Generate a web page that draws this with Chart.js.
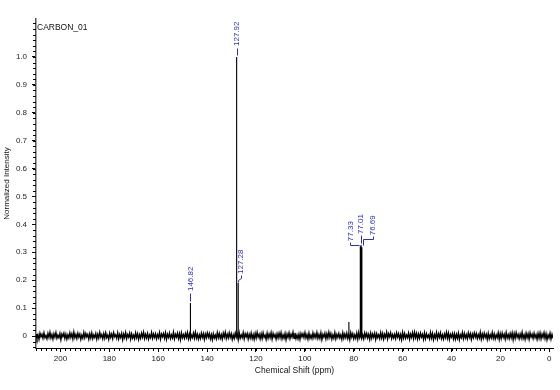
<!DOCTYPE html>
<html>
<head>
<meta charset="utf-8">
<script src="https://cdn.jsdelivr.net/npm/chart.js@4.4.1/dist/chart.umd.min.js"></script>
<style>
  body { margin: 0; background: #fff; }
  #spectre { display: block; }
</style>
</head>
<body>
<canvas id="spectre" width="560" height="390"></canvas>
<script>
const titreSpectre = "CARBON_01";

// axes
const ppmMin = -1.5, ppmMax = 210;
const intMin = -0.043, intMax = 1.136;
const xTicks = [200, 180, 160, 140, 120, 100, 80, 60, 40, 20, 0];
const yTicks = [0, 0.1, 0.2, 0.3, 0.4, 0.5, 0.6, 0.7, 0.8, 0.9, 1.0];
const yTickLabels = ['0', '0.1', '0.2', '0.3', '0.4', '0.5', '0.6', '0.7', '0.8', '0.9', '1.0'];

// pics (ppm, intensite normalisee)
const picsPpm = [146.82, 127.92, 127.28, 82.0, 77.33, 77.01, 76.69];
const picsHauteur = [0.118, 1.0, 0.19, 0.05, 0.322, 0.326, 0.318];
const etiquettesPpm = [146.82, 127.92, 127.28, 77.33, 77.01, 76.69];

// ligne de base (bruit), de 210 a -1.5 ppm
const bruit = [
  0.007,-0.009,0.004,-0.012,0.010,-0.003,0.006,-0.008,0.011,-0.006,0.002,-0.010,0.009,-0.005,0.013,-0.007,0.005,-0.011,0.008,-0.004,
  0.012,-0.008,0.003,-0.006,0.009,-0.013,0.007,-0.002,0.010,-0.009,0.006,-0.011,0.004,-0.007,0.011,-0.005,0.008,-0.010,0.014,-0.006,
  0.005,-0.009,0.010,-0.004,0.007,-0.012,0.003,-0.008,0.012,-0.006,0.009,-0.003,0.006,-0.011,0.008,-0.007,0.011,-0.009,0.004,-0.005,
  0.009,-0.011,0.006,-0.007,0.013,-0.004,0.005,-0.010,0.008,-0.008,0.011,-0.006,0.003,-0.012,0.010,-0.005,0.007,-0.009,0.012,-0.003,
  0.004,-0.008,0.011,-0.010,0.006,-0.005,0.009,-0.013,0.007,-0.006,0.012,-0.009,0.005,-0.004,0.010,-0.011,0.008,-0.007,0.003,-0.010,
  0.011,-0.006,0.008,-0.012,0.005,-0.008,0.010,-0.004,0.013,-0.009,0.006,-0.007,0.009,-0.011,0.004,-0.006,0.012,-0.008,0.007,-0.005,
  0.008,-0.010,0.005,-0.006,0.012,-0.011,0.007,-0.003,0.009,-0.008,0.011,-0.012,0.006,-0.005,0.010,-0.009,0.004,-0.007,0.013,-0.010,
  0.006,-0.004,0.010,-0.009,0.008,-0.013,0.011,-0.006,0.005,-0.008,0.009,-0.005,0.012,-0.010,0.007,-0.011,0.003,-0.006,0.010,-0.008,
  0.013,-0.007,0.006,-0.011,0.004,-0.009,0.010,-0.005,0.008,-0.012,0.007,-0.006,0.011,-0.004,0.009,-0.010,0.005,-0.013,0.008,-0.007,
  0.003,-0.010,0.012,-0.006,0.009,-0.008,0.005,-0.011,0.010,-0.004,0.013,-0.009,0.006,-0.007,0.011,-0.005,0.008,-0.012,0.004,-0.009,
  0.010,-0.005,0.007,-0.013,0.011,-0.008,0.004,-0.006,0.012,-0.010,0.008,-0.003,0.009,-0.011,0.006,-0.007,0.010,-0.009,0.005,-0.012,
  0.009,-0.007,0.013,-0.004,0.006,-0.010,0.008,-0.009,0.011,-0.005,0.003,-0.012,0.010,-0.008,0.007,-0.006,0.012,-0.011,0.009,-0.004,
  0.005,-0.011,0.008,-0.007,0.010,-0.006,0.012,-0.010,0.004,-0.008,0.009,-0.013,0.007,-0.005,0.011,-0.009,0.006,-0.004,0.013,-0.008,
  0.011,-0.009,0.004,-0.010,0.007,-0.012,0.009,-0.003,0.008,-0.006,0.012,-0.007,0.005,-0.011,0.010,-0.008,0.003,-0.009,0.011,-0.006,
  0.007,-0.006,0.012,-0.008,0.005,-0.009,0.011,-0.013,0.006,-0.004,0.010,-0.010,0.008,-0.007,0.013,-0.005,0.009,-0.011,0.004,-0.008,
  0.012,-0.010,0.006,-0.005,0.009,-0.007,0.004,-0.012,0.011,-0.008,0.007,-0.006,0.010,-0.009,0.005,-0.013,0.012,-0.004,0.008,-0.010,
  0.004,-0.008,0.010,-0.011,0.013,-0.006,0.007,-0.009,0.005,-0.010,0.011,-0.004,0.009,-0.007,0.006,-0.012,0.010,-0.008,0.007,-0.005,
  0.010,-0.012,0.008,-0.006,0.004,-0.009,0.012,-0.007,0.009,-0.011,0.006,-0.005,0.013,-0.010,0.008,-0.003,0.011,-0.009,0.005,-0.007,
  0.006,-0.009,0.011,-0.004,0.008,-0.010,0.005,-0.013,0.012,-0.007,0.009,-0.008,0.004,-0.006,0.010,-0.011,0.007,-0.005,0.012,-0.009,
  0.013,-0.006,0.009,-0.011,0.007,-0.008,0.010,-0.004,0.006,-0.012,0.011,-0.009,0.008,-0.005,0.003,-0.010,0.012,-0.007,0.009,-0.013,
  0.005,-0.007,0.012,-0.010,0.008,-0.005,0.011,-0.009,0.004,-0.011,0.007,-0.006,0.013,-0.008,0.010,-0.012,0.006,-0.004,0.009,-0.010,
  0.008,-0.011,0.006,-0.008,0.010,-0.013,0.004,-0.006,0.012,-0.009,0.009,-0.007,0.005,-0.010,0.011,-0.005,0.008,-0.012,0.007,-0.006,
  0.011,-0.004,0.009,-0.009,0.005,-0.007,0.013,-0.011,0.007,-0.008,0.010,-0.005,0.006,-0.012,0.009,-0.010,0.004,-0.007,0.012,-0.008,
  0.007,-0.010,0.004,-0.006,0.011,-0.012,0.008,-0.009,0.010,-0.005,0.006,-0.011,0.012,-0.007,0.005,-0.009,0.009,-0.006,0.011,-0.013,
  0.009,-0.008,0.012,-0.005,0.006,-0.010,0.007,-0.007,0.013,-0.009,0.004,-0.012,0.010,-0.006,0.008,-0.011,0.011,-0.004,0.006,-0.009,
  0.010,-0.006,0.005,-0.012,0.009,-0.008,0.011,-0.010,0.007,-0.005,0.012,-0.009,0.008,-0.013,0.004,-0.007,0.010,-0.011,0.006,-0.008
];

const police = "'Liberation Sans', Arial, sans-serif";

const pasBruit = (ppmMax - ppmMin) / (bruit.length - 1);
const pointsBruit = bruit.map((v, i) => ({ x: ppmMax - i * pasBruit, y: v }));

const pointsPics = [];
picsPpm.forEach((p, i) => {
    pointsPics.push({ x: p, y: 0 }, { x: p, y: picsHauteur[i] }, { x: p, y: null });
});

// petits traits des axes + titre du spectre
const petitsTraits = {
    id: 'petitsTraits',
    afterDraw(chart) {
        const ctx = chart.ctx;
        const a = chart.chartArea;
        const sx = chart.scales.x, sy = chart.scales.y;
        ctx.save();
        ctx.strokeStyle = '#000';
        ctx.lineWidth = 1;
        ctx.beginPath();
        for (let k = Math.ceil(ppmMin / 2); k * 2 <= ppmMax; k++) {
            const px = Math.round(sx.getPixelForValue(k * 2)) + 0.5;
            ctx.moveTo(px, a.bottom);
            ctx.lineTo(px, a.bottom + 3);
        }
        for (let k = Math.ceil(intMin / 0.02); k * 0.02 <= intMax; k++) {
            const py = Math.round(sy.getPixelForValue(k * 0.02)) + 0.5;
            ctx.moveTo(a.left, py);
            ctx.lineTo(a.left - 3, py);
        }
        ctx.stroke();
        ctx.fillStyle = '#111';
        ctx.font = '8.5px ' + police;
        ctx.textBaseline = 'top';
        ctx.fillText(titreSpectre, a.left + 1, a.top + 4);
        ctx.restore();
    }
};

// etiquettes bleues des pics
const etiquettesPics = {
    id: 'etiquettesPics',
    afterDatasetsDraw(chart, args, opts) {
        const ctx = chart.ctx;
        const sx = chart.scales.x, sy = chart.scales.y;
        ctx.save();
        ctx.strokeStyle = opts.color;
        ctx.fillStyle = opts.color;
        ctx.lineWidth = 1;
        ctx.font = '8px ' + police;
        etiquettesPpm.forEach((p, i) => {
            const st = opts.styles[i];
            const px = sx.getPixelForValue(p);
            const haut = sy.getPixelForValue(picsHauteur[picsPpm.indexOf(p)]);
            ctx.beginPath();
            st.trait.forEach(([dx, dy], k) => {
                const X = Math.round(px + dx) + 0.5, Y = Math.round(haut + dy) + 0.5;
                if (k) ctx.lineTo(X, Y); else ctx.moveTo(X, Y);
            });
            ctx.stroke();
            ctx.save();
            ctx.translate(px + st.dx, haut - st.ecart);
            ctx.rotate(-Math.PI / 2);
            ctx.textAlign = 'left';
            ctx.textBaseline = 'middle';
            ctx.fillText(p.toFixed(2), 0, 0);
            ctx.restore();
        });
        ctx.restore();
    }
};

new Chart(document.getElementById('spectre'), {
    type: 'line',
    data: {
        datasets: [{
            data: pointsBruit,
            borderColor: '#000',
            borderWidth: 1.4,
            pointRadius: 0,
            tension: 0
        }, {
            data: pointsPics,
            borderColor: '#000',
            borderWidth: 1.1,
            pointRadius: 0,
            tension: 0,
            spanGaps: false
        }]
    },
    options: {
        responsive: false,
        animation: false,
        devicePixelRatio: 1,
        layout: { padding: { top: 19, right: 7, left: 0, bottom: 0 } },
        plugins: {
            legend: { display: false },
            tooltip: { enabled: false },
            etiquettesPics: {
                color: '#2f2fa8',
                styles: [
                    { dx: 0, ecart: 12, trait: [[0, -2], [0, -10]] },
                    { dx: 0, ecart: 11, trait: [[0, -2], [0, -9]] },
                    { dx: 3, ecart: 9, trait: [[0, -1], [0, -3], [3, -5], [3, -8]] },
                    { dx: -10, ecart: 5, trait: [[-1, -1], [-10, -1], [-10, -4]] },
                    { dx: 0, ecart: 11, trait: [[0, -2], [0, -10]] },
                    { dx: 11, ecart: 12, trait: [[1, -2], [1, -8], [11, -8], [11, -11]] }
                ]
            }
        },
        scales: {
            x: {
                type: 'linear',
                reverse: true,
                min: ppmMin,
                max: ppmMax,
                afterBuildTicks: s => { s.ticks = xTicks.map(v => ({ value: v })); },
                afterFit: s => { s.height = 42; },
                ticks: {
                    autoSkip: false,
                    maxRotation: 0,
                    padding: 2,
                    color: '#222',
                    font: { family: police, size: 8 },
                    callback: v => String(v)
                },
                grid: { drawOnChartArea: false, drawTicks: true, tickLength: 4, color: '#000' },
                border: { display: true, color: '#000', width: 1 },
                title: {
                    display: true,
                    text: 'Chemical Shift (ppm)',
                    color: '#111',
                    font: { family: police, size: 8.5 },
                    padding: { top: 0, bottom: 14 }
                }
            },
            y: {
                type: 'linear',
                min: intMin,
                max: intMax,
                afterBuildTicks: s => { s.ticks = yTicks.map(v => ({ value: v })); },
                afterFit: s => { s.width = 36; },
                ticks: {
                    padding: 5,
                    color: '#222',
                    font: { family: police, size: 8 },
                    callback: v => yTickLabels[yTicks.indexOf(v)]
                },
                grid: { drawOnChartArea: false, drawTicks: true, tickLength: 4, color: '#000' },
                border: { display: true, color: '#555', width: 1.5 },
                title: {
                    display: true,
                    text: 'Normalized Intensity',
                    color: '#111',
                    font: { family: police, size: 8 },
                    padding: { top: 2, bottom: 0 }
                }
            }
        }
    },
    plugins: [petitsTraits, etiquettesPics]
});
</script>
</body>
</html>
